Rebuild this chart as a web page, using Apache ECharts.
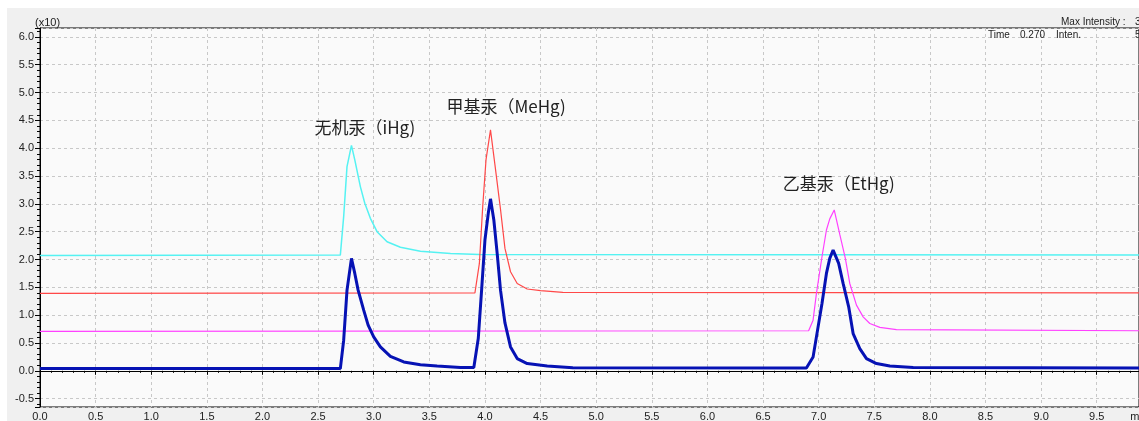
<!DOCTYPE html>
<html>
<head>
<meta charset="utf-8">
<script src="https://cdn.jsdelivr.net/npm/echarts@6/dist/echarts.min.js"></script>
<style>
html,body{margin:0;padding:0;background:#fff;}
#c{width:1139px;height:421px;}
</style>
</head>
<body>
<div id="c"></div>
<script>
// ---- data (time in min, intensity x10) ----
const cyanT = [0, 2.70, 2.73, 2.76, 2.80, 2.83, 2.88, 2.92, 2.97, 3.03, 3.12, 3.24, 3.42, 3.69, 3.95, 9.88];
const cyanV = [2.07, 2.08, 2.77, 3.67, 4.05, 3.79, 3.31, 3.01, 2.74, 2.50, 2.32, 2.22, 2.15, 2.11, 2.09, 2.08];

const redT = [0, 3.91, 3.95, 3.98, 4.01, 4.05, 4.09, 4.14, 4.18, 4.23, 4.29, 4.38, 4.50, 4.70, 9.88];
const redV = [1.39, 1.40, 1.93, 2.95, 3.80, 4.33, 3.70, 2.90, 2.20, 1.78, 1.57, 1.47, 1.44, 1.41, 1.40];

const magT = [0, 6.91, 6.95, 6.98, 7.03, 7.07, 7.10, 7.14, 7.19, 7.24, 7.28, 7.34, 7.40, 7.46, 7.55, 7.70, 9.88];
const magV = [0.71, 0.72, 0.91, 1.39, 2.05, 2.53, 2.73, 2.89, 2.45, 2.02, 1.57, 1.18, 0.97, 0.85, 0.78, 0.74, 0.72];

const blueT = [0, 2.70, 2.73, 2.76, 2.80, 2.83, 2.86, 2.91, 2.95, 3.00, 3.06, 3.15, 3.27, 3.42, 3.57, 3.78,
               3.90, 3.94, 3.97, 4.00, 4.03, 4.05, 4.08, 4.11, 4.14, 4.18, 4.23, 4.29, 4.38, 4.56, 4.79,
               6.89, 6.95, 6.98, 7.03, 7.07, 7.10, 7.13, 7.18, 7.22, 7.27, 7.31, 7.37, 7.43, 7.52, 7.64, 7.85, 9.88];
const blueV = [0.04, 0.04, 0.55, 1.45, 2.02, 1.75, 1.45, 1.09, 0.82, 0.61, 0.43, 0.26, 0.16, 0.11, 0.085, 0.06,
               0.06, 0.58, 1.45, 2.35, 2.83, 3.09, 2.71, 2.11, 1.45, 0.86, 0.43, 0.22, 0.13, 0.085, 0.055,
               0.05, 0.25, 0.61, 1.21, 1.75, 2.02, 2.17, 1.93, 1.57, 1.15, 0.67, 0.40, 0.22, 0.13, 0.085, 0.06, 0.05];

const annoText = ['无机汞（iHg)', '甲基汞（MeHg)', '乙基汞（EtHg)'];
const annoX = [2.92, 4.19, 7.18];
const annoY = [4.37, 4.75, 3.37];

const xMin = 0, xMax = 9.88;
const yMin = -0.65, yMax = 6.16;

function pairs(t, v) { return t.map((x, i) => [x, v[i]]); }

const chart = echarts.init(document.getElementById('c'), null, {renderer: 'canvas'});
const labelFont = 'Liberation Sans, Arial, sans-serif';
const smallFont = '10px Liberation Sans, Arial';

chart.setOption({
  animation: false,
  backgroundColor: '#f0f0f0',
  grid: {
    left: 40, right: 0, top: 28, bottom: 14,
    outerBoundsMode: 'none', containLabel: false,
    show: true, backgroundColor: '#fafafa', borderColor: '#000', borderWidth: 1
  },
  xAxis: {
    type: 'value', min: xMin, max: xMax, interval: 0.5,
    axisLine: {show: true, lineStyle: {color: '#000', width: 1}},
    axisTick: {show: true, length: 4, lineStyle: {color: '#000'}},
    minorTick: {show: true, splitNumber: 5, length: 2, lineStyle: {color: '#000'}},
    axisLabel: {
      margin: 4, fontSize: 11, color: '#222', fontFamily: labelFont,
      showMaxLabel: true,
      formatter: v => (v > 9.8 ? 'min' : v.toFixed(1))
    },
    splitLine: {show: true, lineStyle: {color: '#c8c8c8', type: [3, 3], width: 1}}
  },
  yAxis: {
    type: 'value', min: yMin, max: yMax, splitNumber: 14,
    axisLine: {show: true, lineStyle: {color: '#000', width: 1}},
    axisTick: {show: true, length: 5, lineStyle: {color: '#000'}},
    minorTick: {show: true, splitNumber: 5, length: 3, lineStyle: {color: '#000'}},
    axisLabel: {
      margin: 6, fontSize: 11, color: '#222', fontFamily: labelFont,
      showMinLabel: false, showMaxLabel: false,
      formatter: v => v.toFixed(1)
    },
    splitLine: {show: true, lineStyle: {color: '#c8c8c8', type: [3, 3], width: 1}}
  },
  graphic: [
    {type: 'rect', left: 0, top: 0, z: -10, silent: true, shape: {width: 1139, height: 8}, style: {fill: '#ffffff'}},
    {type: 'rect', left: 0, top: 0, z: -10, silent: true, shape: {width: 7, height: 421}, style: {fill: '#ffffff'}},
    {type: 'text', left: 35, top: 17, z: 100, style: {text: '(x10)', font: '11px Liberation Sans, Arial', fill: '#222'}},
    {type: 'text', left: 1061, top: 17, z: 100, style: {text: 'Max Intensity :', font: smallFont, fill: '#222'}},
    {type: 'text', left: 1135, top: 17, z: 100, style: {text: '3', font: smallFont, fill: '#222'}},
    {type: 'text', left: 988, top: 30, z: 100, style: {text: 'Time', font: smallFont, fill: '#222'}},
    {type: 'text', left: 1020, top: 30, z: 100, style: {text: '0.270', font: smallFont, fill: '#222'}},
    {type: 'text', left: 1056, top: 30, z: 100, style: {text: 'Inten.', font: smallFont, fill: '#222'}},
    {type: 'text', left: 1135, top: 30, z: 100, style: {text: '5', font: smallFont, fill: '#222'}}
  ],
  series: [
    {
      type: 'line', name: 'cyan', data: pairs(cyanT, cyanV), showSymbol: false, symbol: 'none',
      lineStyle: {color: '#55f2f2', width: 1.5}, z: 2
    },
    {
      type: 'line', name: 'red', data: pairs(redT, redV), showSymbol: false, symbol: 'none',
      lineStyle: {color: '#ff4848', width: 1.2}, z: 3
    },
    {
      type: 'line', name: 'magenta', data: pairs(magT, magV), showSymbol: false, symbol: 'none',
      lineStyle: {color: '#ff40ff', width: 1.2}, z: 3
    },
    {
      type: 'line', name: 'blue', data: pairs(blueT, blueV), showSymbol: false, symbol: 'none',
      lineStyle: {color: '#0612b4', width: 3}, z: 5,
      markPoint: {
        symbol: 'circle', symbolSize: 0, silent: true,
        label: {
          show: true, position: 'inside', color: '#222', fontSize: 17,
          fontFamily: 'Noto Sans CJK SC, sans-serif',
          formatter: p => p.name
        },
        data: annoText.map((t, i) => ({name: t, coord: [annoX[i], annoY[i]]}))
      }
    }
  ]
});
</script>
</body>
</html>
